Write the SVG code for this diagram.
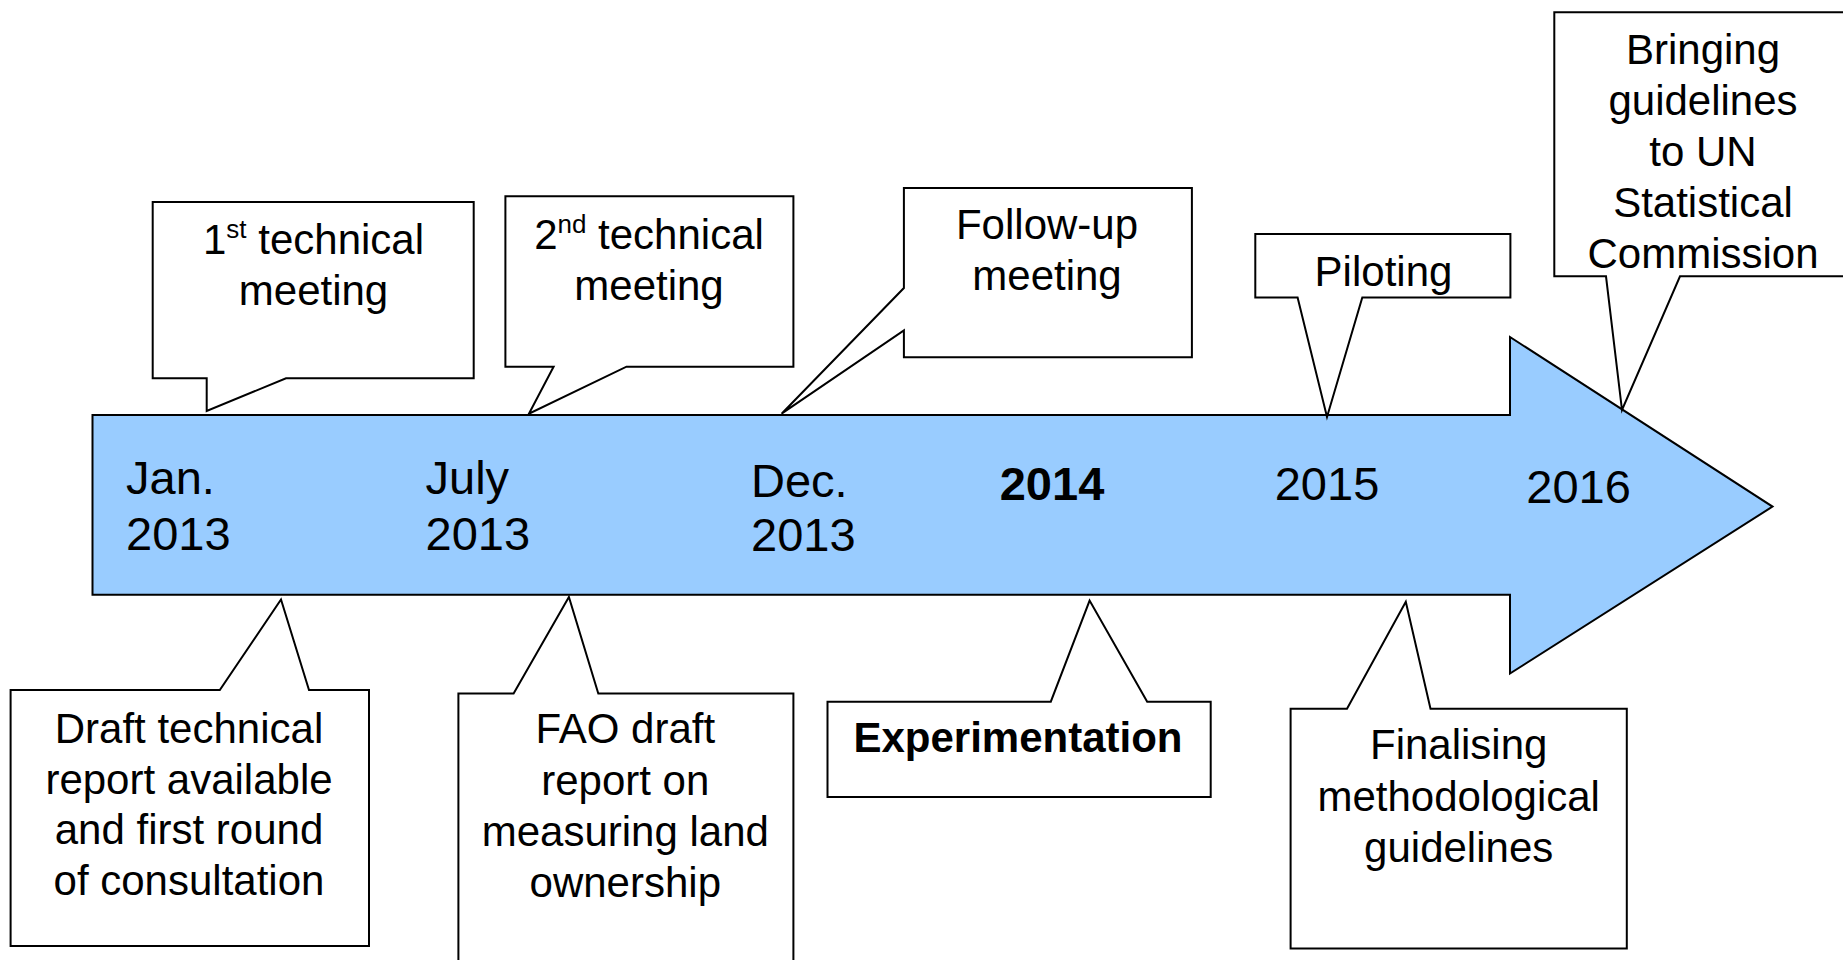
<svg xmlns="http://www.w3.org/2000/svg" width="1843" height="960" viewBox="0 0 1843 960">
<style>
.bg{fill:#ffffff}
.arrow{fill:#99CCFF;stroke:#000;stroke-width:2}
.call{fill:#ffffff;stroke:#000;stroke-width:2;stroke-linejoin:miter}
.t{font-family:"Liberation Sans",Arial,sans-serif;font-size:42px;fill:#000;text-anchor:middle}
.b{font-weight:bold}
.lab{font-family:"Liberation Sans",Arial,sans-serif;font-size:47px;fill:#000}
.sup{font-size:26px}
</style>
<rect class="bg" x="0" y="0" width="1843" height="960"/>
<g id="timeline">
<path class="arrow" d="M92.5,415 H1510 V337 L1772.5,506.6 L1510,673.5 V594.8 H92.5 Z"/>
<text class="lab" x="126" y="493.5">Jan.</text>
<text class="lab" x="126" y="550">2013</text>
<text class="lab" x="425.5" y="493.5">July</text>
<text class="lab" x="425.5" y="550">2013</text>
<text class="lab" x="751" y="497">Dec.</text>
<text class="lab" x="751" y="551">2013</text>
<text class="lab b" x="1052" y="499.5" text-anchor="middle">2014</text>
<text class="lab" x="1327" y="499.5" text-anchor="middle">2015</text>
<text class="lab" x="1578.6" y="503" text-anchor="middle">2016</text>
</g>
<g id="connectors"></g>
<g id="n1">
<path class="call" d="M152.7,202 H473.7 V378.3 H286 L206.7,411 V378.3 H152.7 Z"/>
<text class="t" x="313.5" y="254">1<tspan class="sup" dy="-16">st</tspan><tspan dy="16"> technical</tspan></text>
<text class="t" x="313.5" y="305">meeting</text>
</g>
<g id="n2">
<path class="call" d="M505.4,196.3 H793.4 V366.7 H626.5 L528.9,413.7 L553.6,366.7 H505.4 Z"/>
<text class="t" x="649" y="249">2<tspan class="sup" dy="-16">nd</tspan><tspan dy="16"> technical</tspan></text>
<text class="t" x="649" y="300">meeting</text>
</g>
<g id="n3">
<path class="call" d="M903.9,188 H1191.9 V357.3 H903.9 V330.3 L781.6,413.7 L903.9,288 Z"/>
<text class="t" x="1047" y="238.6">Follow-up</text>
<text class="t" x="1047" y="290">meeting</text>
</g>
<g id="n4">
<path class="call" d="M1255.3,233.9 H1510.4 V297.4 H1362.3 L1327,417 L1297.6,297.4 H1255.3 Z"/>
<text class="t" x="1383.5" y="285.6">Piloting</text>
</g>
<g id="n5">
<path class="call" d="M1554.3,12.3 H1850 V276.3 H1680 L1622,410 L1606,276.3 H1554.3 Z"/>
<text class="t" x="1703" y="64">Bringing</text>
<text class="t" x="1703" y="115">guidelines</text>
<text class="t" x="1703" y="166">to UN</text>
<text class="t" x="1703" y="217">Statistical</text>
<text class="t" x="1703" y="268">Commission</text>
</g>
<g id="n6">
<path class="call" d="M10.6,690 H219.8 L281,599.5 L309,690 H369 V946 H10.6 Z"/>
<text class="t" x="189" y="743">Draft technical</text>
<text class="t" x="189" y="793.5">report available</text>
<text class="t" x="189" y="844">and first round</text>
<text class="t" x="189" y="894.5">of consultation</text>
</g>
<g id="n7">
<path class="call" d="M458.4,693.5 H513.6 L568.9,597 L598.3,693.5 H793.4 V965 H458.4 Z"/>
<text class="t" x="625.3" y="743">FAO draft</text>
<text class="t" x="625.3" y="794.6">report on</text>
<text class="t" x="625.3" y="846">measuring land</text>
<text class="t" x="625.3" y="897">ownership</text>
</g>
<g id="n8">
<path class="call" d="M827.5,701.7 H1050.8 L1089.6,600.6 L1147.2,701.7 H1210.7 V797 H827.5 Z"/>
<text class="t b" x="1018" y="752.3">Experimentation</text>
</g>
<g id="n9">
<path class="call" d="M1290.6,708.8 H1347 L1405.8,601.8 L1430.5,708.8 H1626.8 V948.6 H1290.6 Z"/>
<text class="t" x="1458.7" y="759">Finalising</text>
<text class="t" x="1458.7" y="811">methodological</text>
<text class="t" x="1458.7" y="861.5">guidelines</text>
</g>
</svg>
